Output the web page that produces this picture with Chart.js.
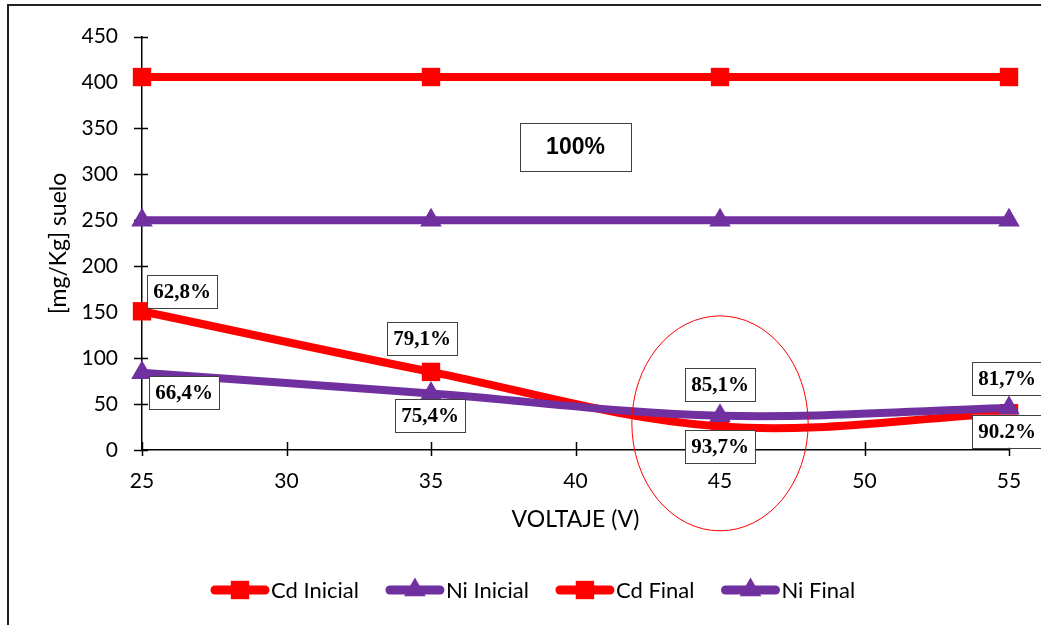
<!DOCTYPE html>
<html><head><meta charset="utf-8">
<script src="https://cdn.jsdelivr.net/npm/chart.js@4/dist/chart.umd.min.js"></script>
<style>html,body{margin:0;padding:0;background:#fff;}#wrap{width:1041px;height:625px;position:relative;}</style>
</head><body><div id="wrap"><canvas id="c" width="1041" height="625"></canvas></div>
<script>
// ---- data ----
const voltaje = [25, 35, 45, 55];
const cdInicial = [406, 406, 406, 406];
const niInicial = [250, 250, 250, 250];
const cdFinal = [151, 85, 25.6, 40];
const niFinal = [84, 61.5, 37.3, 45.8];
const cdFinalLabels = ['62,8%', '79,1%', '93,7%', '90.2%'];
const niFinalLabels = ['66,4%', '75,4%', '85,1%', '81,7%'];
const seriesNames = ['Cd Inicial', 'Ni Inicial', 'Cd Final', 'Ni Final'];
const xTicks = [25, 30, 35, 40, 45, 50, 55];
const yTicks = [0, 50, 100, 150, 200, 250, 300, 350, 400, 450];
const inicialNote = '100%';
const xTitle = 'VOLTAJE (V)';
const yTitle = '[mg/Kg] suelo';

// ---- styles ----
const RED = '#FF0000', PURPLE = '#7030A0';
const SANS = 'Lato, "Open Sans", sans-serif';
const cdLabelOffsets = [[40, -20], [-9, -33], [0, 20], [-2, 18]];
const niLabelOffsets = [[42, 20], [-1, 22], [0, -31], [-2, -29]];

const toXY = arr => voltaje.map((v, i) => ({x: v, y: arr[i]}));
function ds(name, vals, color, style, order) {
  return {label: name, data: toXY(vals), borderColor: color, backgroundColor: color,
    borderWidth: 8, pointStyle: style, pointRadius: style === 'rect' ? 13 : 12.5,
    pointHoverRadius: style === 'rect' ? 13 : 12.5, pointBorderWidth: 0,
    tension: 0.35, order: order, clip: false};
}

const deco = {
  id: 'deco',
  beforeDraw(chart) {
    const c = chart.ctx;
    c.save();
    c.fillStyle = '#fff'; c.fillRect(0, 0, chart.width, chart.height);
    c.strokeStyle = '#222'; c.lineWidth = 2;
    c.beginPath(); c.moveTo(8, chart.height); c.lineTo(8, 5); c.lineTo(chart.width, 5); c.stroke();
    c.restore();
  },
  beforeDatasetsDraw(chart) {
    const c = chart.ctx, xs = chart.scales.x, ys = chart.scales.y;
    c.save(); c.strokeStyle = '#000'; c.lineWidth = 1.5;
    c.beginPath();
    yTicks.forEach(v => { const y = Math.round(ys.getPixelForValue(v)) + 0.5; c.moveTo(xs.left - 8, y); c.lineTo(xs.left + 6, y); });
    xTicks.forEach(v => { const x = Math.round(xs.getPixelForValue(v)) + 0.5; c.moveTo(x, ys.bottom - 8); c.lineTo(x, ys.bottom + 6); });
    c.stroke(); c.restore();
  },
  afterDatasetsDraw(chart) {
    const c = chart.ctx, xs = chart.scales.x, ys = chart.scales.y;
    c.save();
    // ellipse highlight around 45 V
    const cx = xs.getPixelForValue(45), cy = ys.getPixelForValue(29);
    const rx = Math.abs(xs.getPixelForValue(48.05) - cx), ry = Math.abs(ys.getPixelForValue(146) - cy);
    c.strokeStyle = RED; c.lineWidth = 1;
    c.beginPath(); c.ellipse(cx, cy, rx, ry, 0, 0, Math.PI * 2); c.stroke();

    function box(text, px, py, font, padX, h) {
      c.font = font;
      const w = c.measureText(text).width + padX * 2;
      c.fillStyle = '#fff'; c.fillRect(px - w / 2, py - h / 2, w, h);
      c.strokeStyle = '#404040'; c.lineWidth = 1;
      c.strokeRect(Math.round(px - w / 2) + 0.5, Math.round(py - h / 2) + 0.5, Math.round(w), h);
      c.fillStyle = '#000'; c.textAlign = 'center'; c.textBaseline = 'middle';
      c.fillText(text, px, py + 1);
    }
    const serif = 'bold 21px "Liberation Serif", "Times New Roman", serif';
    voltaje.forEach((v, i) => {
      const x = xs.getPixelForValue(v);
      box(cdFinalLabels[i], x + cdLabelOffsets[i][0], ys.getPixelForValue(cdFinal[i]) + cdLabelOffsets[i][1], serif, 6, 33);
      box(niFinalLabels[i], x + niLabelOffsets[i][0], ys.getPixelForValue(niFinal[i]) + niLabelOffsets[i][1], serif, 6, 33);
    });
    box(inicialNote, xs.getPixelForValue(40), ys.getPixelForValue(330), 'bold 23px "Liberation Sans", Arial, sans-serif', 26, 48);

    // legend
    const colors = [RED, PURPLE, RED, PURPLE];
    const styles = ['rect', 'triangle', 'rect', 'triangle'];
    let lx = 211; const ly = 590;
    c.font = '22px ' + SANS; c.textAlign = 'left'; c.textBaseline = 'middle';
    seriesNames.forEach((n, i) => {
      c.strokeStyle = colors[i]; c.fillStyle = colors[i]; c.lineWidth = 9; c.lineCap = 'round';
      c.beginPath(); c.moveTo(lx + 4, ly); c.lineTo(lx + 54, ly); c.stroke();
      Chart.helpers.drawPoint(c, {pointStyle: styles[i], radius: styles[i] === 'rect' ? 13 : 12.5, borderWidth: 0}, lx + 29, ly);
      c.fillStyle = '#000';
      c.fillText(n, lx + 60, ly + 1);
      lx += 60 + c.measureText(n).width + 27;
    });
    c.restore();
  }
};

new Chart(document.getElementById('c'), {
  type: 'line',
  data: {datasets: [
    ds(seriesNames[0], cdInicial, RED, 'rect', 3),
    ds(seriesNames[1], niInicial, PURPLE, 'triangle', 2),
    ds(seriesNames[2], cdFinal, RED, 'rect', 1),
    ds(seriesNames[3], niFinal, PURPLE, 'triangle', 0)
  ]},
  options: {
    responsive: false, animation: false,
    layout: {padding: {left: 0, top: 35, right: 32, bottom: 90}},
    plugins: {legend: {display: false}, tooltip: {enabled: false}},
    scales: {
      x: {type: 'linear', min: 25, max: 55,
        afterBuildTicks: s => { s.ticks = xTicks.map(v => ({value: v})); },
        afterFit: s => { s.height = 85; },
        grid: {display: false, drawTicks: false},
        border: {display: true, color: '#000', width: 1.5},
        ticks: {color: '#000', padding: 19, font: {family: SANS, size: 21}},
        title: {display: true, text: xTitle, color: '#000', font: {family: SANS, size: 23}, padding: {top: 0, bottom: 2}}
      },
      y: {min: 0, max: 450,
        afterBuildTicks: s => { s.ticks = yTicks.map(v => ({value: v})); },
        afterFit: s => { s.width = 142; },
        grid: {display: false, drawTicks: false},
        border: {display: true, color: '#000', width: 1.5},
        ticks: {color: '#000', padding: 24, font: {family: SANS, size: 21}},
        title: {display: true, text: yTitle, color: '#000', font: {family: SANS, size: 23}, padding: {top: 45, bottom: 0}}
      }
    }
  },
  plugins: [deco]
});
</script></body></html>
